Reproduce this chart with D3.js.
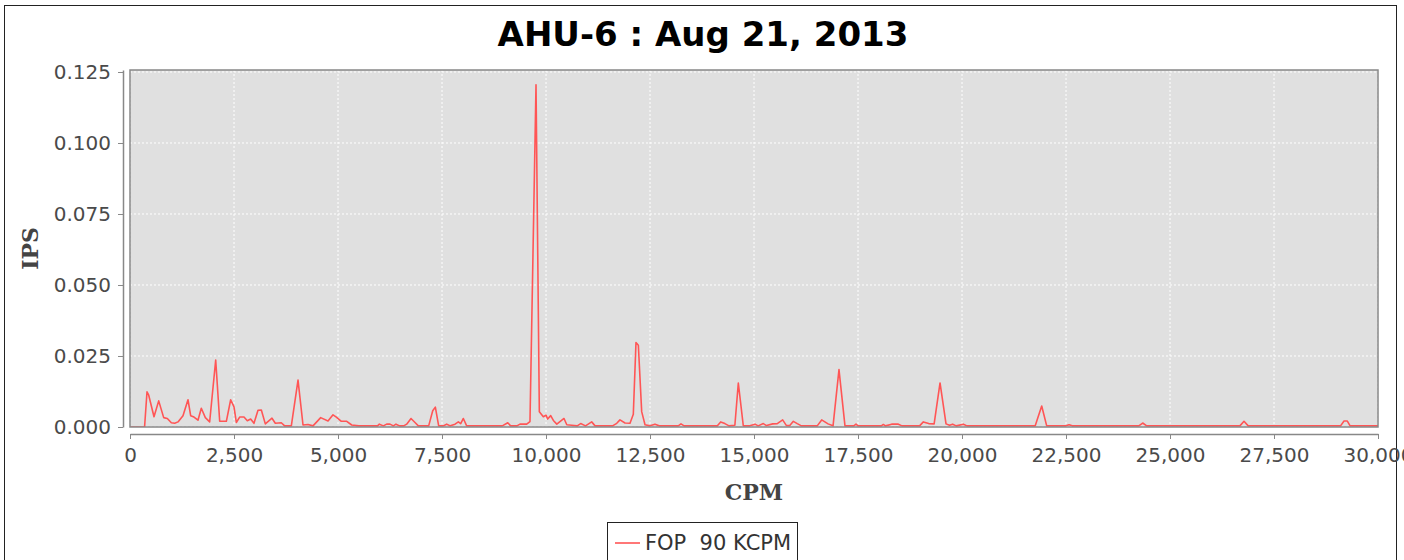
<!DOCTYPE html>
<html>
<head>
<meta charset="utf-8">
<script src="https://cdn.jsdelivr.net/npm/d3@7"></script>
<style>
  body { margin: 0; background: #fff; }
  .tick text { font-family: "DejaVu Sans", sans-serif; font-size: 20px; fill: #4a4a4a; }
  .axis path, .axis line { stroke: #888; }
</style>
</head>
<body>
<div id="chart"></div>
<script>
// spectrum: CPM vs IPS
var cpm = [0, 350, 409, 450, 577, 690, 810, 897, 994, 1074, 1154, 1274, 1394, 1458, 1538, 1634, 1714, 1811, 1915,
  2060, 2156, 2316, 2420, 2500, 2556, 2636, 2740, 2820, 2900, 2980, 3077, 3157, 3253, 3413, 3493, 3637, 3718, 3878,
  4039, 4159, 4279, 4399, 4584, 4760, 4880, 4960, 5080, 5210, 5330, 5500, 5950, 5994, 6090, 6170, 6250, 6330, 6394,
  6480, 6580, 6651, 6755, 6851, 6931, 7180, 7277, 7340, 7420, 7530, 7613, 7700, 7813, 7893, 7950, 8013, 8093, 8950,
  9080, 9150, 9300, 9375, 9536, 9615, 9760, 9840, 9936, 10000, 10040, 10113, 10177, 10260, 10433, 10500, 10617, 10750,
  10834, 10950, 11098, 11180, 11600, 11700, 11778, 11899, 12019, 12099, 12163, 12220, 12300, 12380, 12500, 12620, 12720,
  13180, 13245, 13320, 14120, 14199, 14300, 14400, 14540, 14623, 14743, 14900, 15024, 15100, 15224, 15300, 15450, 15560,
  15689, 15780, 15860, 15946, 16040, 16140, 16520, 16627, 16780, 16900, 17043, 17187, 17400, 17452, 17500, 18060, 18109,
  18160, 18309, 18469, 18560, 18980, 19071, 19200, 19330, 19472, 19616, 19700, 19776, 19860, 20032, 20120, 21760, 21916,
  22036, 22500, 22573, 22650, 24250, 24343, 24440, 26680, 26779, 26880, 29100, 29183, 29263, 29330, 30000];
var ips = [0, 0, 0.0124, 0.0112, 0.0036, 0.0092, 0.0033, 0.003, 0.0015, 0.0013, 0.0018, 0.004, 0.0096, 0.004, 0.0035,
  0.0024, 0.0066, 0.0033, 0.0018, 0.0236, 0.002, 0.002, 0.0096, 0.0071, 0.0016, 0.0035, 0.0035, 0.0022, 0.0028, 0.0013,
  0.0059, 0.006, 0.0011, 0.0031, 0.0013, 0.0015, 0.0004, 0.0004, 0.0165, 0.0007, 0.0009, 0.0004, 0.0033, 0.0021, 0.0043,
  0.0035, 0.002, 0.002, 0.0007, 0.0004, 0.0004, 0.001, 0.0004, 0.001, 0.001, 0.0004, 0.001, 0.0004, 0.0004, 0.001,
  0.003, 0.0016, 0.0004, 0.0004, 0.0057, 0.007, 0.0004, 0.0004, 0.001, 0.0004, 0.001, 0.0018, 0.0012, 0.003, 0.0004,
  0.0004, 0.0015, 0.0004, 0.0004, 0.001, 0.001, 0.0019, 0.1205, 0.0054, 0.0036, 0.0042, 0.0028, 0.004, 0.0023, 0.001,
  0.003, 0.0008, 0.0006, 0.0004, 0.0012, 0.0004, 0.0018, 0.0004, 0.0004, 0.0013, 0.0025, 0.0014, 0.0013, 0.0045,
  0.0297, 0.0288, 0.0054, 0.0008, 0.0004, 0.001, 0.0004, 0.0004, 0.0011, 0.0004, 0.0004, 0.0018, 0.0012, 0.0004,
  0.0006, 0.0155, 0.0004, 0.0004, 0.001, 0.0004, 0.0012, 0.0005, 0.0011, 0.0012, 0.0025, 0.0005, 0.0005, 0.002, 0.0012,
  0.0004, 0.0004, 0.0025, 0.0011, 0.0004, 0.0202, 0.0004, 0.0004, 0.001, 0.0004, 0.0004, 0.0009, 0.0004, 0.001, 0.001,
  0.0004, 0.0004, 0.0018, 0.0012, 0.0011, 0.0155, 0.0011, 0.0006, 0.001, 0.0004, 0.001, 0.0004, 0.0004, 0.0074, 0.0004,
  0.0004, 0.0008, 0.0004, 0.0004, 0.0014, 0.0004, 0.0004, 0.002, 0.0004, 0.0004, 0.0021, 0.0021, 0.0004, 0.0004];

var xTicks = [0, 2500, 5000, 7500, 10000, 12500, 15000, 17500, 20000, 22500, 25000, 27500, 30000];
var yTicks = [0, 0.025, 0.05, 0.075, 0.1, 0.125];

var titleText = "AHU-6 : Aug 21, 2013";
var xLabel = "CPM", yLabel = "IPS";
var seriesName = "FOP  90 KCPM";

var W = 1404, H = 560;
var plot = {left: 130, right: 1378, top: 70, bottom: 427};

var svg = d3.select("#chart")
  .append("svg")
  .attr("width", W)
  .attr("height", H);

// outer frame of the chart image
svg.append("rect")
  .attr("x", 4.5).attr("y", 5.5)
  .attr("width", 1392).attr("height", 600)
  .attr("fill", "#fff")
  .attr("stroke", "#222");

var x = d3.scaleLinear()
  .domain([0, 30000])
  .range([plot.left, plot.right]);

var y = d3.scaleLinear()
  .domain([0, 0.1257])
  .range([plot.bottom, plot.top]);

// plot background
svg.append("rect")
  .attr("x", plot.left).attr("y", plot.top)
  .attr("width", plot.right - plot.left)
  .attr("height", plot.bottom - plot.top)
  .attr("fill", "#e0e0e0");

// dashed white gridlines
svg.append("g").selectAll("line")
  .data(xTicks)
  .enter().append("line")
  .attr("x1", function(d) { return x(d); })
  .attr("x2", function(d) { return x(d); })
  .attr("y1", plot.top).attr("y2", plot.bottom)
  .attr("stroke", "#fff")
  .attr("stroke-dasharray", "2,2");

svg.append("g").selectAll("line")
  .data(yTicks)
  .enter().append("line")
  .attr("x1", plot.left).attr("x2", plot.right)
  .attr("y1", function(d) { return y(d); })
  .attr("y2", function(d) { return y(d); })
  .attr("stroke", "#fff")
  .attr("stroke-dasharray", "2,2");

svg.append("clipPath")
  .attr("id", "clip")
  .append("rect")
  .attr("x", plot.left).attr("y", plot.top)
  .attr("width", plot.right - plot.left)
  .attr("height", plot.bottom - plot.top);

var line = d3.line()
  .x(function(d, i) { return x(cpm[i]); })
  .y(function(d, i) { return y(ips[i]); });

svg.append("path")
  .datum(ips)
  .attr("clip-path", "url(#clip)")
  .attr("d", line)
  .attr("fill", "none")
  .attr("stroke", "#ff5555")
  .attr("stroke-width", 1.6)
  .attr("stroke-linejoin", "round");

// plot outline
svg.append("rect")
  .attr("x", plot.left).attr("y", plot.top)
  .attr("width", plot.right - plot.left)
  .attr("height", plot.bottom - plot.top)
  .attr("fill", "none")
  .attr("stroke", "#888")
  .attr("stroke-width", 1.5);

// axes sit a few pixels off the plot, like JFreeChart does
var xAxis = d3.axisBottom(x)
  .tickValues(xTicks)
  .tickFormat(d3.format(","))
  .tickSizeInner(5)
  .tickSizeOuter(0)
  .tickPadding(9);

svg.append("g")
  .attr("class", "axis")
  .attr("transform", "translate(0," + (plot.bottom + 7) + ")")
  .call(xAxis);

var yAxis = d3.axisLeft(y)
  .tickValues(yTicks)
  .tickFormat(d3.format(".3f"))
  .tickSizeInner(5)
  .tickSizeOuter(0)
  .tickPadding(7);

svg.append("g")
  .attr("class", "axis")
  .attr("transform", "translate(" + (plot.left - 7) + ",0)")
  .call(yAxis);

svg.selectAll(".axis .domain").attr("stroke-width", 1.5);

// title and axis labels
svg.append("text")
  .attr("x", 703).attr("y", 46)
  .attr("text-anchor", "middle")
  .style("font-family", "DejaVu Sans, sans-serif")
  .style("font-weight", "bold")
  .style("font-size", "34px")
  .attr("fill", "#000")
  .text(titleText);

svg.append("text")
  .attr("x", (plot.left + plot.right) / 2).attr("y", 500)
  .attr("text-anchor", "middle")
  .style("font-family", "DejaVu Serif, serif")
  .style("font-weight", "bold")
  .style("font-size", "22px")
  .attr("fill", "#444")
  .text(xLabel);

svg.append("text")
  .attr("transform", "translate(38," + ((plot.top + plot.bottom) / 2) + ")rotate(-90)")
  .attr("text-anchor", "middle")
  .style("font-family", "DejaVu Serif, serif")
  .style("font-weight", "bold")
  .style("font-size", "22px")
  .attr("fill", "#444")
  .text(yLabel);

// legend box at the bottom
var legend = svg.append("g")
  .attr("transform", "translate(607,522)");

legend.append("rect")
  .attr("x", 0.5).attr("y", 0.5)
  .attr("width", 190).attr("height", 50)
  .attr("fill", "#fff")
  .attr("stroke", "#222");

legend.append("line")
  .attr("x1", 8).attr("x2", 33)
  .attr("y1", 21).attr("y2", 21)
  .attr("stroke", "#ff5555")
  .attr("stroke-width", 1.6);

legend.append("text")
  .attr("x", 38).attr("y", 28)
  .style("font-family", "DejaVu Sans, sans-serif")
  .style("font-size", "21px")
  .attr("fill", "#333")
  .attr("xml:space", "preserve")
  .style("white-space", "pre")
  .text(seriesName);
</script>
</body>
</html>
